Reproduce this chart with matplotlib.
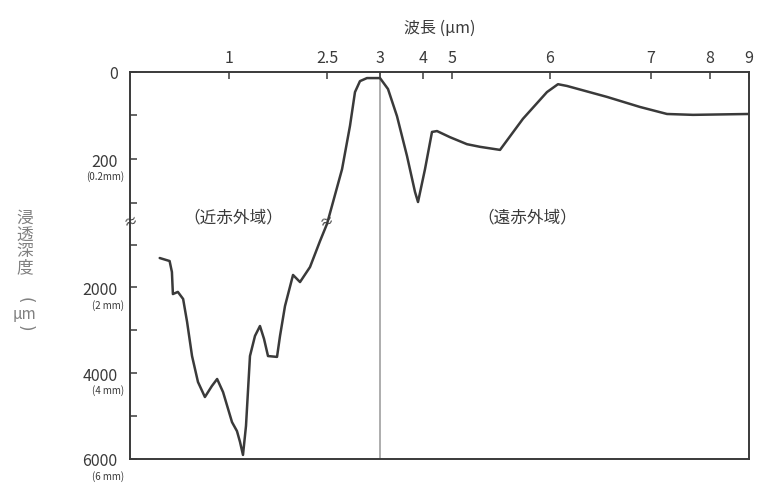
import numpy as np
import matplotlib
matplotlib.use("Agg")
import matplotlib.pyplot as plt

plt.rcParams['font.family'] = ['Noto Sans CJK JP', 'DejaVu Sans']

# wavelength (um) vs penetration depth (um)
wavelength = [0.79, 0.82, 0.827, 0.83, 0.845, 0.861, 0.873, 0.888, 0.906, 0.927, 0.948, 0.964, 0.982,
              1.046, 1.122, 1.168, 1.214, 1.26, 1.321, 1.398, 1.474, 1.536, 1.597, 1.735, 1.781, 1.857,
              1.98, 2.087, 2.24, 2.393,
              2.5, 2.557, 2.642, 2.717, 2.764, 2.811, 2.877, 3.0, 3.186, 3.395, 3.628, 3.814, 3.884,
              4.069, 4.31, 4.483, 4.931,
              5.153, 5.286, 5.49, 5.724, 5.969, 6.079, 6.168, 6.564, 6.891, 7.271, 7.712, 9.0]
depth = [1315, 1385, 1640, 2155, 2105, 2270, 2805, 3600, 4205, 4555, 4300, 4135, 4440,
         5140, 5350, 5600, 5905, 5230, 3600, 3130, 2900, 3200, 3600, 3620, 3130, 2435,
         1710, 1875, 1525, 920,
         520, 298, 223, 124, 47, 22, 15, 15, 40, 102, 193, 275, 298,
         223, 138, 136, 150,
         166, 172, 179, 108, 47, 29, 33, 58, 81, 97, 99, 97]

x_ticks = [1, 2.5, 3, 4, 5, 6, 7, 8, 9]
x_ticklabels = ['1', '2.5', '3', '4', '5', '6', '7', '8', '9']
y_ticks = [0, 200, 2000, 4000, 6000]
y_ticklabels = ['0', '200', '2000', '4000', '6000']
y_minor = [100, 300, 1000, 3000, 5000]
y_sublabels = {200: '(0.2mm)', 2000: '(2 mm)', 4000: '(4 mm)', 6000: '(6 mm)'}

# the original axes are not uniform: piecewise scales (value -> distance along axis)
x_knots = [0.7, 1, 2.5, 3, 4, 5, 6, 7, 8, 9]
x_dist = [0, 99, 197, 250, 293, 322, 420, 521, 580, 619]
y_knots = [0, 340, 480, 6000]          # broken axis: 0-340 and 480-6000
y_dist = [0, 148.9, 150.7, 387.5]


def piecewise(src, dst):
    src = np.asarray(src, float)
    dst = np.asarray(dst, float)

    def f(v):
        v = np.asarray(v, float)
        out = np.interp(v, src, dst)
        lo_slope = (dst[1] - dst[0]) / (src[1] - src[0])
        hi_slope = (dst[-1] - dst[-2]) / (src[-1] - src[-2])
        out = np.where(v < src[0], dst[0] + (v - src[0]) * lo_slope, out)
        out = np.where(v > src[-1], dst[-1] + (v - src[-1]) * hi_slope, out)
        return out
    return f


ink = '#3a3a3a'
fig = plt.figure(figsize=(7.61, 4.89), dpi=100)
ax = fig.add_axes([130 / 761, 29 / 489, 619 / 761, 387.5 / 489])

ax.set_xscale('function', functions=(piecewise(x_knots, x_dist), piecewise(x_dist, x_knots)))
ax.set_yscale('function', functions=(piecewise(y_knots, y_dist), piecewise(y_dist, y_knots)))
ax.set_xlim(0.7, 9)
ax.set_ylim(6000, 0)

ax.plot(wavelength, depth, color=ink, lw=1.8, solid_joinstyle='round', solid_capstyle='round')
ax.axvline(3, color='#a0a0a0', lw=1.2, zorder=1)

ax.xaxis.tick_top()
ax.set_xticks(x_ticks)
ax.set_xticklabels(x_ticklabels)
ax.xaxis.set_minor_locator(matplotlib.ticker.NullLocator())
ax.set_yticks(y_ticks)
ax.set_yticklabels(y_ticklabels)
ax.set_yticks(y_minor, minor=True)
ax.tick_params(axis='both', which='both', direction='in', length=5, width=1.1,
               color=ink, labelcolor=ink, labelsize=11.5)
ax.tick_params(axis='x', pad=4)
ax.tick_params(axis='y', pad=9)
for s in ax.spines.values():
    s.set_color(ink)
    s.set_linewidth(1.4)

for v, s in y_sublabels.items():
    ax.annotate(s, xy=(0, v), xycoords=('axes fraction', 'data'), xytext=(-4, -12),
                textcoords='offset points', ha='right', va='center', fontsize=7, color=ink)

# break marks
ax.text(0, 0.614, '≈', transform=ax.transAxes, ha='center', va='center',
        fontsize=10, color=ink, rotation=15)
ax.text(2.49, 410, '≈', ha='center', va='center', fontsize=10, color=ink, rotation=15)

ax.text(0.166, 0.624, '（近赤外域）', transform=ax.transAxes, ha='center', va='center',
        fontsize=12, color=ink)
ax.text(0.641, 0.624, '（遠赤外域）', transform=ax.transAxes, ha='center', va='center',
        fontsize=12, color=ink)

fig.text(440 / 761, 1 - 28 / 489, '波長 (μm)', ha='center', va='center', fontsize=11.5, color=ink)
fig.text(25 / 761, 1 - 243 / 489, '浸\n透\n深\n度', ha='center', va='center', fontsize=12,
         color='#808080', linespacing=0.95)
fig.text(25 / 761, 1 - 300 / 489, '(', ha='center', va='center', fontsize=12, color='#808080',
         rotation=-90, family='DejaVu Sans')
fig.text(25 / 761, 1 - 314 / 489, 'μm', ha='center', va='center', fontsize=11, color='#808080')
fig.text(25 / 761, 1 - 328 / 489, ')', ha='center', va='center', fontsize=12, color='#808080',
         rotation=-90, family='DejaVu Sans')

fig.savefig('out.png', dpi=100)
